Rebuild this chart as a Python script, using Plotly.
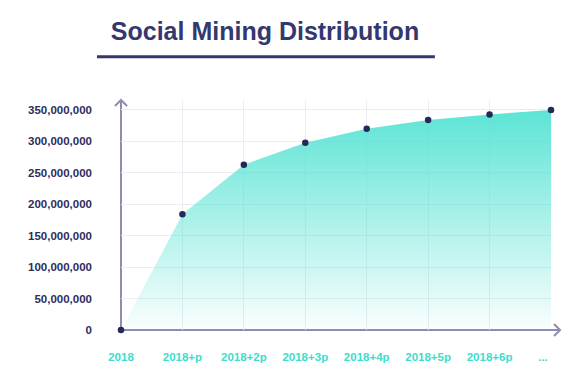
import plotly.graph_objects as go

categories = ["2018", "2018+p", "2018+2p", "2018+3p", "2018+4p", "2018+5p", "2018+6p", "..."]
supply = [0, 184e6, 263e6, 298e6, 320e6, 334e6, 343e6, 350e6]
ytick_vals = [0, 50e6, 100e6, 150e6, 200e6, 250e6, 300e6, 350e6]
ytick_text = [f"{int(v):,}" for v in ytick_vals]
title_text = "Social Mining Distribution"

NAVY = "#35376f"
AXIS = "#8f8cb0"
TEAL = "#3ddccb"

fig = go.Figure()
fig.add_trace(go.Scatter(
    x=list(range(len(categories))), y=supply,
    mode="markers", fill="tozeroy",
    line=dict(width=0, color="rgba(0,0,0,0)"),
    fillgradient=dict(type="vertical",
                      colorscale=[[0, "rgba(80,226,210,0.03)"], [1, "rgba(80,226,210,0.93)"]]),
    marker=dict(size=6.5, color="#25295a"),
    cliponaxis=False, hoverinfo="skip", showlegend=False,
))

shapes = []
L = dict(color=AXIS, width=2)
shapes.append(dict(type="line", xref="paper", yref="paper", x0=0, y0=0, x1=0, y1=1.0, line=L, layer="between"))
shapes.append(dict(type="path", xref="paper", yref="paper",
                   path="M -0.014,0.974 L 0,1.0 L 0.014,0.974", line=L, layer="between"))
shapes.append(dict(type="line", xref="paper", yref="paper", x0=0, y0=0, x1=1.021, y1=0, line=L, layer="between"))
shapes.append(dict(type="path", xref="paper", yref="paper",
                   path="M 1.007,0.026 L 1.021,0 L 1.007,-0.026", line=L, layer="between"))
shapes.append(dict(type="line", xref="paper", yref="paper", x0=-0.0558, x1=0.730, y0=1.188, y1=1.188,
                   line=dict(color=NAVY, width=3)))

xtick_text = [f"<b>{c}</b>" for c in categories]
xtick_text[-1] = f"<b>{categories[-1]}</b>" + "\u00a0" * 5

fig.update_layout(
    width=573, height=369,
    margin=dict(l=113, r=30, t=92, b=47),
    paper_bgcolor="white", plot_bgcolor="white",
    font=dict(family="Liberation Sans, Arial, sans-serif"),
    title=dict(text=f"<b>{title_text}</b>", x=257/573, xanchor="center",
               y=1 - 23/369, yanchor="middle", yref="container",
               font=dict(size=25, color=NAVY)),
    shapes=shapes,
    xaxis=dict(range=[0, 7], tickvals=list(range(len(categories))),
               ticktext=xtick_text,
               showgrid=True, gridcolor="#ececf2", gridwidth=1, zeroline=False, showline=False,
               tickfont=dict(size=11.5, color=TEAL),
               ticklabelstandoff=18, fixedrange=True),
    yaxis=dict(range=[0, 365.9e6], tickvals=ytick_vals, ticktext=[f"<b>{t}</b>" for t in ytick_text],
               showgrid=True, gridcolor="#ececf2", gridwidth=1, zeroline=False, showline=False,
               tickfont=dict(size=11.5, color="#2e2d5c"), ticklabelstandoff=28, fixedrange=True),
)

fig.write_html("out.html")
